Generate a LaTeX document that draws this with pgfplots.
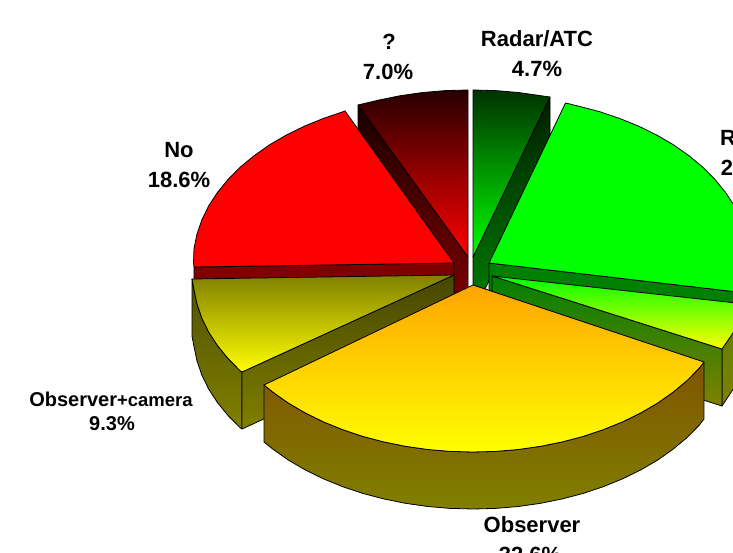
\documentclass[border=0pt]{standalone}
\usepackage{pgfplots}
\pgfplotsset{compat=1.18}
\usepackage{fontspec}
\setmainfont{Liberation Sans}
\definecolor{qtop}{RGB}{40,0,0}
\definecolor{qwallt}{RGB}{25,0,0}
\definecolor{dred}{RGB}{128,0,0}
\definecolor{atop}{RGB}{0,50,0}
\definecolor{awallt}{RGB}{0,30,0}
\definecolor{dgreen}{RGB}{0,128,0}
\definecolor{lgreen}{RGB}{0,255,0}
\definecolor{red1}{RGB}{255,0,0}
\definecolor{yel}{RGB}{255,255,0}
\definecolor{olive1}{RGB}{128,128,0}
\definecolor{olivew}{RGB}{70,70,0}
\definecolor{oliveo}{RGB}{80,80,0}
\definecolor{limeo}{RGB}{100,128,0}
\definecolor{orng}{RGB}{255,165,0}
\definecolor{brwn}{RGB}{128,83,0}
\pgfplotsset{slice/.style={draw=black,line width=0.8pt,line join=round,mark=none,sharp plot}}
\newcommand{\lab}[3]{\node[anchor=base,inner sep=0pt,font=\bfseries\fontsize{#3}{#3}\selectfont,overlay] at #1 {#2};}
\begin{document}
\begin{tikzpicture}
\useasboundingbox (0,0) rectangle (733pt,553pt);
\clip (0,0) rectangle (733pt,553pt);
\begin{axis}[at={(0,0)},anchor=south west,scale only axis,width=733pt,height=553pt,
  xmin=0,xmax=733,ymin=0,ymax=553,y dir=reverse,hide axis,clip=true]
% ? slice
\addplot[slice,top color=qwallt,bottom color=dred] coordinates {(358,105)(468,257)(468,314)(358,162)} --cycle;
\addplot[slice,top color=qtop,bottom color=red1] coordinates {(468,257)(468,90)(445.3,90.6)(422.7,92.5)(400.4,95.7)(378.7,100.1)(358,105)} --cycle;
% Radar/ATC slice
\addplot[slice,top color=awallt,bottom color=dgreen] coordinates {(550,97)(473,257)(473,314)(550,154)} --cycle;
\addplot[slice,top color=atop,bottom color=lgreen] coordinates {(473,257)(473,90)(495.7,90.6)(518.3,92.5)(540.6,95.7)(550,97)} --cycle;
% No slice
\addplot[slice,fill=dred] coordinates {(194,267)(454,263)(454,320)(194,324)} --cycle;
\addplot[slice,fill=red1] coordinates {(454,263)(194,267)(193.5,263)(194,248.4)(197,234)(201.9,219.8)(208.7,205.9)(217.5,192.4)(228,179.5)(240.2,167.2)(254.1,155.7)(269.4,144.9)(286.2,135.1)(304.3,126.2)(323.5,118.4)(345,111)} --cycle;
% Green slice
\addplot[slice,fill=dgreen] coordinates {(489,263)(746,293)(746,350)(489,320)} --cycle;
\addplot[slice,fill=lgreen] coordinates {(489,263)(565.5,103)(578.3,106.1)(599.3,111.6)(619.5,118.4)(638.7,126.2)(656.8,135.1)(673.6,144.9)(688.9,155.7)(702.8,167.2)(715,179.5)(725.5,192.4)(734.3,205.9)(741.1,219.8)(746,234)(749,248.4)(750,263)(746,293)} --cycle;
% Lime slice
\addplot[slice,top color=limeo,bottom color=olive1] coordinates {(722,349)(736,328)(736,385)(722,406)} --cycle;
\addplot[slice,top color=dgreen,bottom color=olive1] coordinates {(492,276)(722,349)(722,406)(492,333)} --cycle;
\addplot[slice,top color=lgreen,bottom color=yel] coordinates {(492,276)(722,349)(733,333)(745,304)} --cycle;
% Observer+camera slice
\addplot[slice,top color=oliveo,bottom color=olive1] coordinates {(192,279)(194,289.6)(197,304)(201.9,318.2)(208.7,332.1)(217.5,345.6)(228,358.5)(240.2,370.8)(242,372)(242,429)(240.2,427.8)(228,415.5)(217.5,402.6)(208.7,389.1)(201.9,375.2)(197,361)(194,346.6)(192,336)} --cycle;
\addplot[slice,top color=olivew,bottom color=olive1] coordinates {(454,275)(242,372)(242,429)(454,332)} --cycle;
\addplot[slice,top color=olive1,bottom color=yel] coordinates {(454,275)(192,279)(194,289.6)(197,304)(201.9,318.2)(208.7,332.1)(217.5,345.6)(228,358.5)(240.2,370.8)(242,372)} --cycle;
% Observer slice
\addplot[slice,top color=brwn,bottom color=olive1] coordinates {(264,385)(273.1,392.3)(288.4,403.1)(305.2,412.9)(323.3,421.8)(342.5,429.6)(362.7,436.4)(383.7,441.9)(405.4,446.3)(427.7,449.5)(450.3,451.4)(473,452)(495.7,451.4)(518.3,449.5)(540.6,446.3)(562.3,441.9)(583.3,436.4)(603.5,429.6)(622.7,421.8)(640.8,412.9)(657.6,403.1)(672.9,392.3)(686.8,380.8)(699,368.5)(704,362)(704,419)(699,425.5)(686.8,437.8)(672.9,449.3)(657.6,460.1)(640.8,469.9)(622.7,478.8)(603.5,486.6)(583.3,493.4)(562.3,498.9)(540.6,503.3)(518.3,506.5)(495.7,508.4)(473,509)(450.3,508.4)(427.7,506.5)(405.4,503.3)(383.7,498.9)(362.7,493.4)(342.5,486.6)(323.3,478.8)(305.2,469.9)(288.4,460.1)(273.1,449.3)(264,442)} --cycle;
\addplot[slice,top color=orng,bottom color=yel] coordinates {(473,285)(264,385)(273.1,392.3)(288.4,403.1)(305.2,412.9)(323.3,421.8)(342.5,429.6)(362.7,436.4)(383.7,441.9)(405.4,446.3)(427.7,449.5)(450.3,451.4)(473,452)(495.7,451.4)(518.3,449.5)(540.6,446.3)(562.3,441.9)(583.3,436.4)(603.5,429.6)(622.7,421.8)(640.8,412.9)(657.6,403.1)(672.9,392.3)(686.8,380.8)(699,368.5)(704,362)} --cycle;
% labels
\lab{(axis cs:389,50)}{?}{22}
\lab{(axis cs:388,80)}{7.0\%}{22}
\lab{(axis cs:537,47)}{Radar/ATC}{22}
\lab{(axis cs:537,77)}{4.7\%}{22}
\lab{(axis cs:179,158)}{No}{22}
\lab{(axis cs:179,188)}{18.6\%}{22}
\lab{(axis cs:728,146)}{R}{22}
\lab{(axis cs:727,176)}{2}{22}
\lab{(axis cs:532,532)}{Observer}{22}
\lab{(axis cs:530,562)}{32.6\%}{22}
\node[anchor=base,inner sep=0pt,overlay,font=\bfseries] at (axis cs:111,406) {\fontsize{20}{20}\selectfont Observer\fontsize{18.5}{20}\selectfont +camera};
\lab{(axis cs:112,430)}{9.3\%}{20}
\end{axis}
\end{tikzpicture}
\end{document}
